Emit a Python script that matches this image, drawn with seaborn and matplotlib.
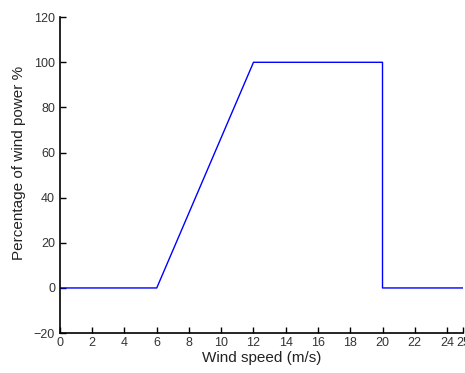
import pandas as pd
import numpy as np

import seaborn as sns
import matplotlib.pyplot as plt

# power curve corner points
wind_speed = [0, 6, 12, 20, 20, 25]
power_pct = [0, 0, 100, 100, 0, 0]
x_ticks = [0, 2, 4, 6, 8, 10, 12, 14, 16, 18, 20, 22, 24, 25]
y_ticks = [-20, 0, 20, 40, 60, 80, 100, 120]

sns.set_style("ticks")
plt.rcParams["font.family"] = ["Liberation Sans", "DejaVu Sans"]

df = pd.DataFrame({"Wind speed": wind_speed, "Power": power_pct})

fig = plt.figure(figsize=(4.65, 3.73), dpi=100)
ax = fig.add_axes([0.129, 0.107, 0.867, 0.847])

sns.lineplot(data=df, x="Wind speed", y="Power", sort=False, estimator=None,
             color="#0000ff", linewidth=1.0, ax=ax)

ax.set_xlim(0, 25)
ax.set_ylim(-20, 120)
ax.set_xticks(x_ticks)
ax.set_yticks(y_ticks)
ax.tick_params(direction="in", length=4, width=1, labelsize=9,
               colors="black", labelcolor="#333333")
ax.tick_params(axis="x", pad=3)
for s in ["top", "right"]:
    ax.spines[s].set_visible(False)
for s in ["left", "bottom"]:
    ax.spines[s].set_linewidth(1.2)
    ax.spines[s].set_color("black")

ax.set_xlabel("Wind speed (m/s)", fontsize=11, labelpad=1, color="#222222")
ax.set_ylabel("Percentage of wind power %", fontsize=11, color="#222222")
ax.yaxis.set_label_coords(-0.085, 0.54)

plt.savefig("out.png", dpi=100)
plt.close()
